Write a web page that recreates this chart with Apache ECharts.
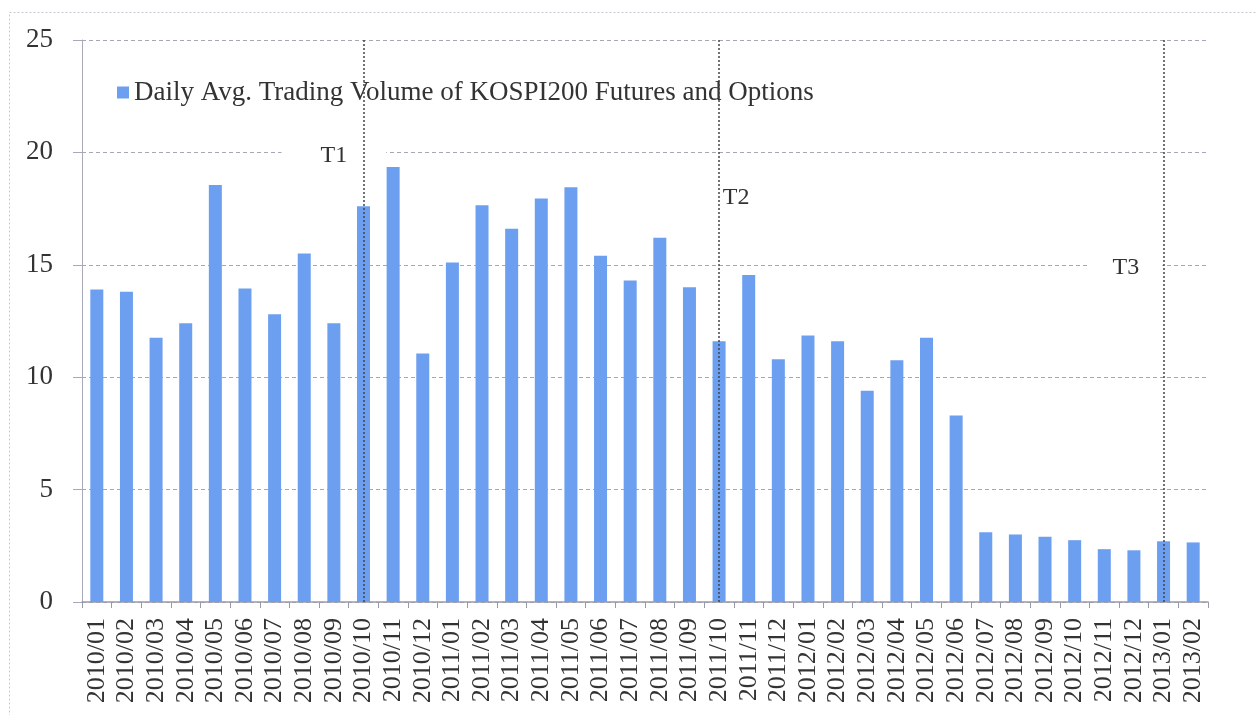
<!DOCTYPE html>
<html>
<head>
<meta charset="utf-8">
<script src="https://cdn.jsdelivr.net/npm/echarts@6/dist/echarts.min.js"></script>
<style>
  html, body { margin: 0; padding: 0; background: #fff; }
  #main { width: 1256px; height: 715px; }
</style>
</head>
<body>
<div id="main"></div>
<script>
// months on the x axis
var months = ['2010/01','2010/02','2010/03','2010/04','2010/05','2010/06','2010/07','2010/08','2010/09','2010/10','2010/11','2010/12',
  '2011/01','2011/02','2011/03','2011/04','2011/05','2011/06','2011/07','2011/08','2011/09','2011/10','2011/11','2011/12',
  '2012/01','2012/02','2012/03','2012/04','2012/05','2012/06','2012/07','2012/08','2012/09','2012/10','2012/11','2012/12',
  '2013/01','2013/02'];
// daily avg trading volume
var volume = [13.9, 13.8, 11.75, 12.4, 18.55, 13.95, 12.8, 15.5, 12.4, 17.6, 19.35, 11.05,
  15.1, 17.65, 16.6, 17.95, 18.45, 15.4, 14.3, 16.2, 14.0, 11.6, 14.55, 10.8,
  11.85, 11.6, 9.4, 10.75, 11.75, 8.3, 3.1, 3.0, 2.9, 2.75, 2.35, 2.3,
  2.7, 2.65];
// event markers
var eventNames = ['T1', 'T2', 'T3'];
var eventMonths = ['2010/10', '2011/10', '2013/01'];
var eventLabelAt = [['2010/09', 20], ['2011/10', 18], ['2012/12', 15]];

var serif = 'Liberation Serif';
var legendName = 'Daily Avg. Trading Volume of KOSPI200 Futures and Options';
var myChart = echarts.init(document.getElementById('main'));

// 标签位置微调 (offset / padding)
var labelOffset = [[0, 3], [17, 0], [-8, 3]];
var labelPad = [[2, 39], [2, 4], [2, 23]];

var option = {
  backgroundColor: '#fff',
  animation: false,
  graphic: [{
    type: 'rect',
    left: 7, top: 10,
    shape: { width: 1260, height: 720 },
    style: { fill: 'none', stroke: '#c8c8d4', lineWidth: 1, lineDash: [2, 2] },
    silent: true
  }],
  legend: {
    left: 112,
    top: 74,
    itemWidth: 12,
    itemHeight: 12,
    textStyle: { fontFamily: serif, fontSize: 27, color: '#333' },
    data: [{ name: legendName, icon: 'rect' }]
  },
  grid: { left: 82, right: 48, top: 40, bottom: 113, containLabel: false },
  xAxis: {
    type: 'category',
    data: months,
    boundaryGap: true,
    axisLine: { lineStyle: { color: '#9a9aa6', width: 1.5 } },
    axisTick: { show: true, alignWithLabel: false, length: 6, lineStyle: { color: '#9a9aa6' } },
    axisLabel: { rotate: 90, interval: 0, fontFamily: serif, fontSize: 26, color: '#333', margin: 16 },
    splitLine: { show: false }
  },
  yAxis: {
    type: 'value',
    min: 0, max: 25, interval: 5,
    axisLine: { show: true, lineStyle: { color: '#a8a8b8', width: 1 } },
    axisTick: { show: true, length: 9, lineStyle: { color: '#a8a8b8' } },
    axisLabel: { fontFamily: serif, fontSize: 27, color: '#333', margin: 29 },
    splitLine: { show: true, lineStyle: { color: '#a6a6bb', type: [4, 3], width: 1 } }
  },
  series: [{
    name: legendName,
    type: 'bar',
    data: volume,
    barWidth: 13,
    z: 2,
    itemStyle: { color: '#6c9ff0' }
  }, {
    // T1/T2/T3 文字
    type: 'line',
    data: [],
    z: 1,
    markPoint: {
      z: 1,
      silent: true,
      symbol: 'rect',
      symbolSize: 0,
      label: {
        show: true,
        position: 'inside',
        fontFamily: serif, fontSize: 24, color: '#333',
        backgroundColor: '#fff'
      },
      data: eventNames.map(function (n, i) {
        return { name: n, coord: eventLabelAt[i], value: n,
          label: { formatter: n, offset: labelOffset[i], padding: labelPad[i] } };
      })
    }
  }, {
    // 竖直虚线
    type: 'line',
    data: [],
    z: 6,
    markLine: {
      z: 6,
      silent: true,
      symbol: 'none',
      label: { show: false },
      lineStyle: { color: '#444', type: [2, 2], width: 1.5 },
      data: eventMonths.map(function (m) { return { xAxis: m }; })
    }
  }]
};

myChart.setOption(option);
</script>
</body>
</html>
